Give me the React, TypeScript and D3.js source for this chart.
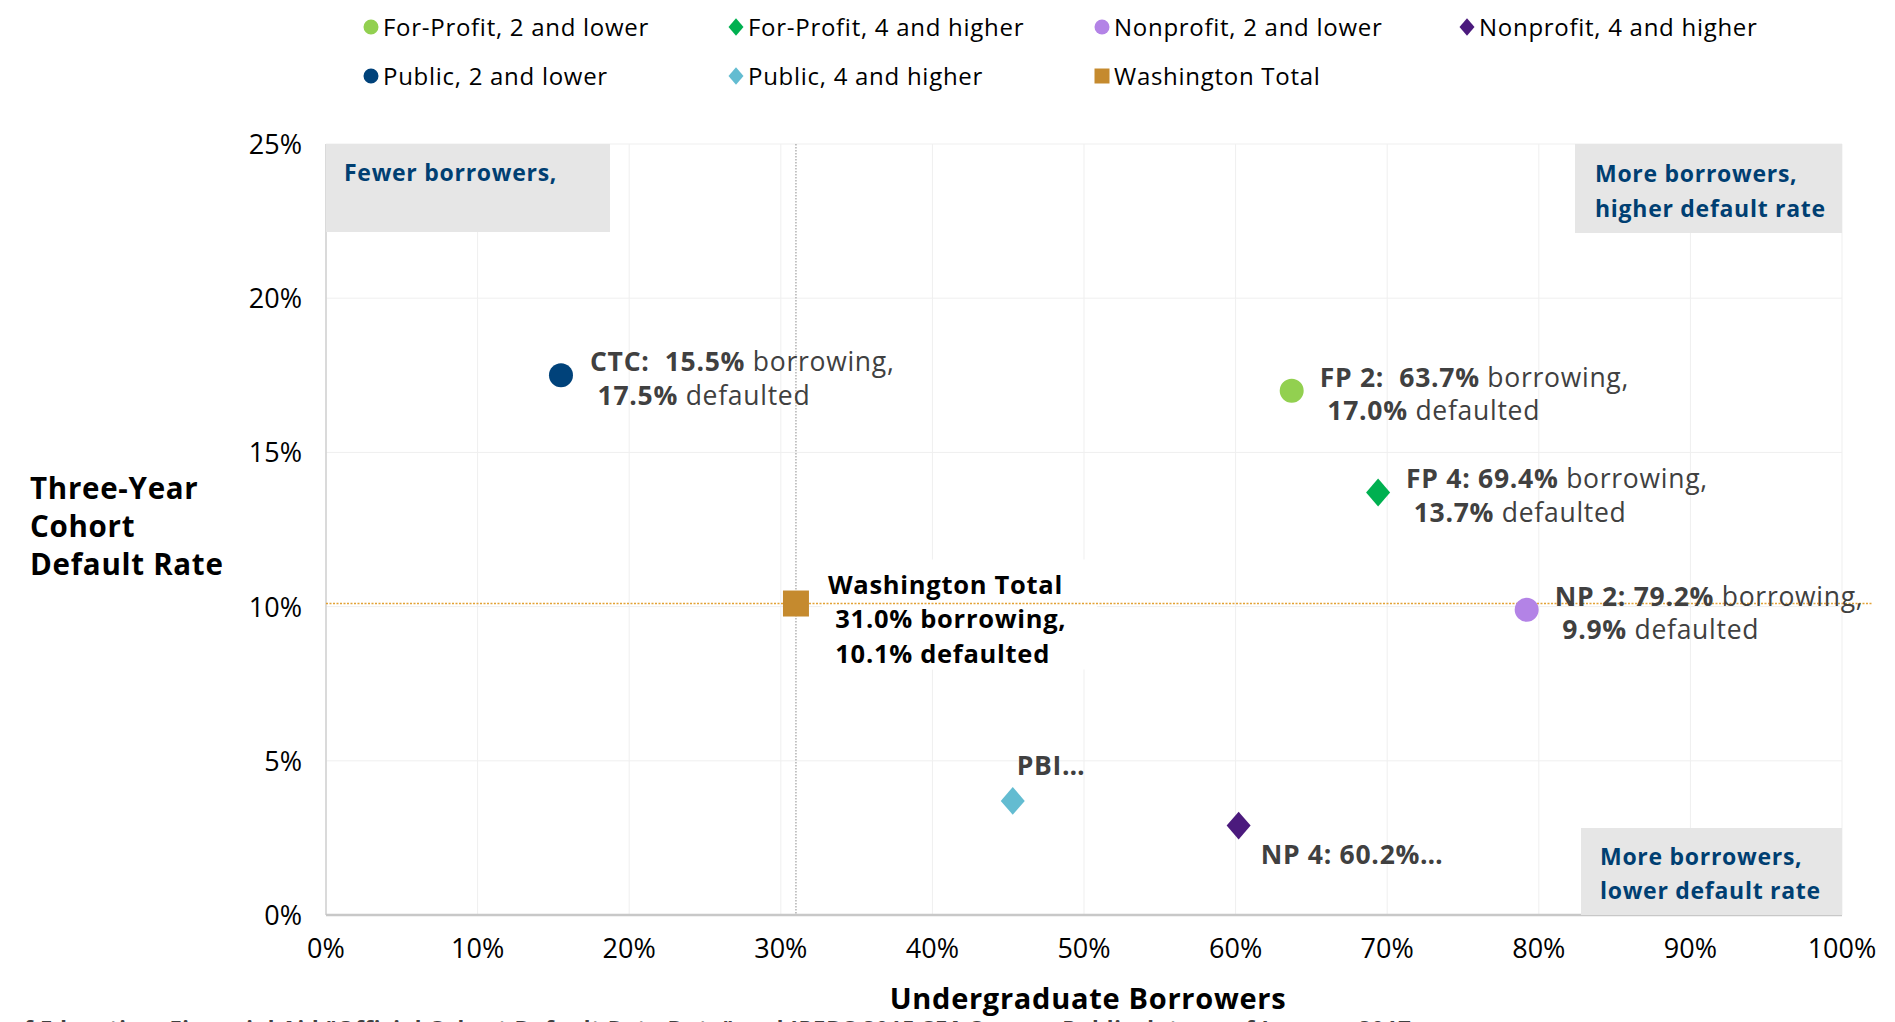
import React, { useEffect } from 'react';
import * as d3 from 'd3';

const SERIES = ['For-Profit, 2 and lower', 'For-Profit, 4 and higher', 'Nonprofit, 2 and lower', 'Nonprofit, 4 and higher',
  'Public, 2 and lower', 'Public, 4 and higher', 'Washington Total'];
const SHAPES = ['circle', 'diamond', 'circle', 'diamond', 'circle', 'diamond', 'square'];
const COLORS = ['#92D050', '#00B050', '#B383E6', '#4B1A7D', '#00427A', '#63BCD1', '#C58A2E'];
const BORROW = [63.7, 69.4, 79.2, 60.2, 15.5, 45.3, 31.0];
const DEFAULT = [17.0, 13.7, 9.9, 2.9, 17.5, 3.7, 10.1];
// label lines: [bold, regular] pairs
const LABELS = [
  [['FP 2:  63.7%', ' borrowing,'], [' 17.0%', ' defaulted']],
  [['FP 4: 69.4%', ' borrowing,'], [' 13.7%', ' defaulted']],
  [['NP 2: 79.2%', ' borrowing,'], [' 9.9%', ' defaulted']],
  [['NP 4: 60.2%…', '']],
  [['CTC:  15.5%', ' borrowing,'], [' 17.5%', ' defaulted']],
  [['PBI…', '']],
  [['Washington Total', ''], [' 31.0% borrowing,', ''], [' 10.1% defaulted', '']],
];
const X_TICKS = [0, 10, 20, 30, 40, 50, 60, 70, 80, 90, 100];
const Y_TICKS = [0, 5, 10, 15, 20, 25];

const FONT = '"Open Sans", Lato, sans-serif';
const W = 1895, H = 1022;
const M = { left: 326, right: 53, top: 144, bottom: 107 };

const nb = (s: string) => s.replace(/ /g, '\u00A0');

function shapePath(shape: string, cx: number, cy: number, s: number) {
  if (shape === 'circle') {
    const p = d3.path(); p.arc(cx, cy, s / 2, 0, Math.PI * 2); return p.toString();
  }
  if (shape === 'diamond') {
    const hw = s / 2, hh = s * 0.58;
    return `M${cx},${cy - hh}L${cx + hw},${cy}L${cx},${cy + hh}L${cx - hw},${cy}Z`;
  }
  const h = s / 2;
  return `M${cx - h},${cy - h}h${s}v${s}h${-s}Z`;
}

export default function App() {
  useEffect(() => { document.body.style.margin = '0'; }, []);

  const x = d3.scaleLinear().domain([0, 100]).range([M.left, W - M.right]);
  const y = d3.scaleLinear().domain([0, 25]).range([H - M.bottom, M.top]);
  const x0 = x(0), x1 = x(100), y0 = y(0), y1 = y(25);

  // label offsets relative to marker
  const labelPos = [
    { dx: 28, dy: -13 }, { dx: 28, dy: -13 }, { dx: 28, dy: -13 }, { dx: 22, dy: 29 },
    { dx: 29, dy: -13 }, { dx: 4, dy: -35 }, { dx: 32, dy: -19 },
  ];

  const legendCols = [371, 736, 1102, 1467];
  const legendRows = [27, 76];
  const ls = '0.045em';

  return (
    <svg width={W} height={H} style={{ display: 'block', fontFamily: FONT, letterSpacing: ls }}>
      <rect width={W} height={H} fill="#fff" />
      {/* grid */}
      {X_TICKS.map(t => (
        <line key={'gx' + t} x1={x(t)} x2={x(t)} y1={y1} y2={y0} stroke="#EFEFEF" strokeWidth={1} />
      ))}
      {Y_TICKS.map(t => (
        <line key={'gy' + t} x1={x0} x2={x1} y1={y(t)} y2={y(t)} stroke="#EFEFEF" strokeWidth={1} />
      ))}
      <line x1={x0} x2={x0} y1={y1} y2={y0} stroke="#D0D0D0" strokeWidth={1.5} />
      <line x1={x0} x2={x1} y1={y0} y2={y0} stroke="#C8C8C8" strokeWidth={2.5} />

      {/* quadrant boxes */}
      <rect x={x0} y={y1} width={284} height={88} fill="#E6E6E6" />
      <text x={344} y={181} fontSize={23} fontWeight={700} fill="#003F72">Fewer borrowers,</text>
      <rect x={1575} y={y1} width={x1 - 1575} height={89} fill="#E6E6E6" />
      <text x={1595} y={182} fontSize={23} fontWeight={700} fill="#003F72">More borrowers,</text>
      <text x={1595} y={217} fontSize={23} fontWeight={700} fill="#003F72">higher default rate</text>
      <rect x={1581} y={828} width={x1 - 1581} height={y0 - 828} fill="#E6E6E6" />
      <text x={1600} y={865} fontSize={23} fontWeight={700} fill="#003F72">More borrowers,</text>
      <text x={1600} y={899} fontSize={23} fontWeight={700} fill="#003F72">lower default rate</text>

      {/* white box behind Washington Total label */}
      <rect x={x(BORROW[6]) + 26} y={y(DEFAULT[6]) - 44} width={275} height={110} fill="#fff" />

      {/* reference lines */}
      <line x1={x(BORROW[6])} x2={x(BORROW[6])} y1={y1} y2={y0} stroke="#8C8C8C" strokeWidth={1} strokeDasharray="1.5 1.5" />
      <line x1={x0} x2={x1 + 30} y1={y(DEFAULT[6])} y2={y(DEFAULT[6])} stroke="#E3A235" strokeWidth={1.5} strokeDasharray="2 1.5" />

      {/* markers */}
      {SERIES.map((s, i) => (
        <path key={'m' + s} d={shapePath(SHAPES[i], x(BORROW[i]), y(DEFAULT[i]), SHAPES[i] === 'square' ? 26 : 24)}
          fill={COLORS[i]} />
      ))}

      {/* data labels */}
      {SERIES.map((s, i) => {
        const lx = x(BORROW[i]) + labelPos[i].dx;
        const ly = y(DEFAULT[i]) + labelPos[i].dy;
        const isTotal = i === 6;
        return (
          <g key={'l' + s}>
            {LABELS[i].map((ln, k) => (
              <text key={k} x={lx} y={ly + k * (isTotal ? 34.5 : 33.5) + 9} fontSize={isTotal ? 25.5 : 26.5}
                fill={isTotal ? '#000' : '#404040'}>
                <tspan fontWeight={700}>{nb(ln[0])}</tspan>
                {ln[1] ? <tspan fontWeight={400}>{nb(ln[1])}</tspan> : null}
              </text>
            ))}
          </g>
        );
      })}

      {/* axes ticks */}
      {Y_TICKS.map(t => (
        <text key={'yt' + t} x={302} y={y(t) + 10} textAnchor="end" fontSize={27} letterSpacing={0} fill="#000">{t}%</text>
      ))}
      {X_TICKS.map(t => (
        <text key={'xt' + t} x={x(t)} y={958} textAnchor="middle" fontSize={27} letterSpacing={0} fill="#000">{t}%</text>
      ))}

      {/* axis titles */}
      <text x={1088} y={1009} textAnchor="middle" fontSize={29} fontWeight={700} fill="#000">Undergraduate Borrowers</text>
      {['Three-Year', 'Cohort', 'Default Rate'].map((t, k) => (
        <text key={t} x={30} y={499 + k * 38} fontSize={29.5} fontWeight={700} fill="#000">{t}</text>
      ))}

      {/* legend */}
      {SERIES.map((s, i) => {
        const cx = legendCols[i % 4];
        const cy = legendRows[Math.floor(i / 4)];
        return (
          <g key={'lg' + s}>
            <path d={shapePath(SHAPES[i], cx, cy, 15)} fill={COLORS[i]} />
            <text x={cx + 12} y={cy + 8.5} fontSize={24} fill="#000">{s}</text>
          </g>
        );
      })}

      {/* source line, cut by the frame as in the original */}
      <text x={10} y={1036} fontSize={22} fontWeight={700} fill="#404040">
        of Education, Financial Aid "Official Cohort Default Rate Data" and IPEDS 2015 SFA Survey; Public data as of January 2017.
      </text>
    </svg>
  );
}
